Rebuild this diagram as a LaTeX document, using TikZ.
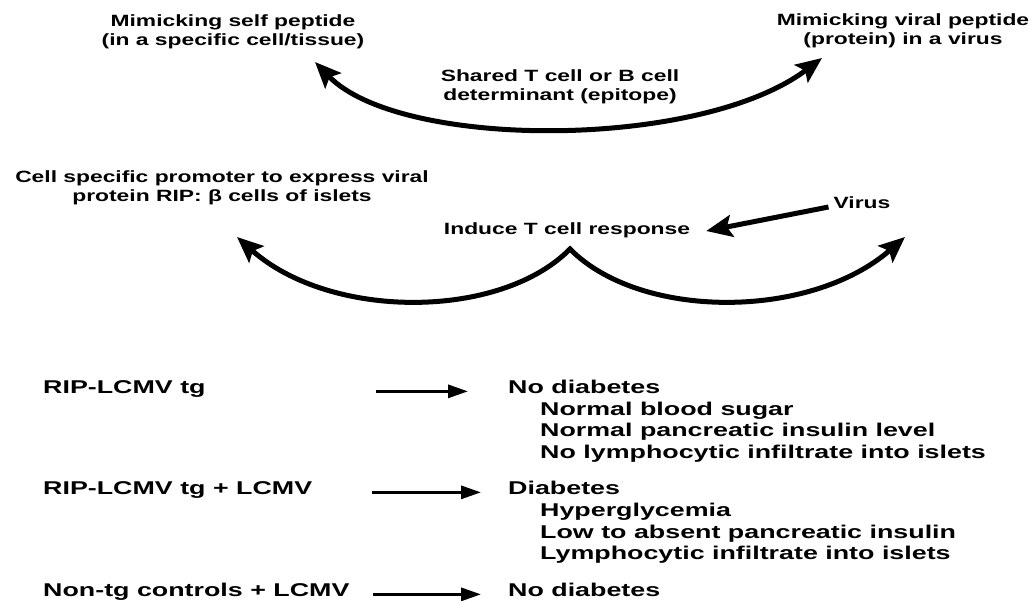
\documentclass[tikz,border=0pt]{standalone}
\usepackage{fontspec}
\usepackage{tikz}
\usetikzlibrary{arrows.meta}
\newfontfamily\topfont[FakeStretch=1.4]{Liberation Sans}
\newfontfamily\listfont[FakeStretch=1.45]{Liberation Sans}

\begin{document}
\begin{tikzpicture}[x=1pt,y=-1pt,
  toplabel/.style={align=center,inner sep=0pt,font=\topfont\bfseries\fontsize{16.3}{19.5}\selectfont},
  listlabel/.style={anchor=base west,inner sep=0pt,font=\listfont\bfseries\fontsize{18.5}{21}\selectfont},
  bigarrow/.style={line width=5pt,>={Stealth[length=26pt,width=22pt,inset=5pt]}},
  thinarrow/.style={line width=3pt,-{Triangle[length=20pt,width=13pt]}}]
\useasboundingbox (0,0) rectangle (1035,600);

% mimicry
\node[toplabel] (selfpep) at (233,32) {Mimicking self peptide\\(in a specific cell/tissue)};
\node[toplabel] (viralpep) at (903,31) {Mimicking viral peptide\\(protein) in a virus};
\node[toplabel] (shared) at (560,87) {Shared T cell or B cell\\determinant (epitope)};
\coordinate (selftip) at (315,62);
\coordinate (viraltip) at (822,58);
\draw[bigarrow,<->] (selftip) .. controls (400,150) and (700,150) .. (viraltip);

% transgenic model
\node[toplabel] (promoter) at (222,188) {Cell specific promoter to express viral\\protein RIP: β cells of islets};
\node[toplabel] (induce) at (567,230) {Induce T cell response};
\node[toplabel] (virus) at (862,203) {Virus};
\coordinate (promtip) at (237,237);
\coordinate (peak) at (570,249);
\coordinate (virustip) at (905,237);
\draw[bigarrow,<->] (promtip) .. controls (330,320) and (500,320) .. (peak)
  .. controls (640,320) and (810,320) .. (virustip);
\draw[bigarrow,->] ([xshift=-5pt,yshift=-4pt]virus.west) -- ([xshift=16pt,yshift=-1pt]induce.east);

% outcomes
\node[listlabel] (rip) at (43,393.5) {RIP-LCMV tg};
\node[listlabel] (ripl) at (43,494.5) {RIP-LCMV tg + LCMV};
\node[listlabel] (nontg) at (43,596.5) {Non-tg controls + LCMV};
\node[listlabel] (nodia) at (508,393.5) {No diabetes};
\node[listlabel] (normsug) at (540,415) {Normal blood sugar};
\node[listlabel] (normins) at (540,436.5) {Normal pancreatic insulin level};
\node[listlabel] (nolymph) at (540,458) {No lymphocytic infiltrate into islets};
\node[listlabel] (dia) at (508,494.5) {Diabetes};
\node[listlabel] (hyper) at (540,516) {Hyperglycemia};
\node[listlabel] (lowins) at (540,538) {Low to absent pancreatic insulin};
\node[listlabel] (lymph) at (540,559.5) {Lymphocytic infiltrate into islets};
\node[listlabel] (nodiab) at (508,596.5) {No diabetes};
\draw[thinarrow] ([xshift=170pt]rip.mid east) -- ([xshift=-40pt]nodia.mid west);
\draw[thinarrow] ([xshift=60pt]ripl.mid east) -- ([xshift=-27pt]dia.mid west);
\draw[thinarrow] ([xshift=23pt]nontg.mid east) -- ([xshift=-27pt]nodiab.mid west);
\end{tikzpicture}
\end{document}
